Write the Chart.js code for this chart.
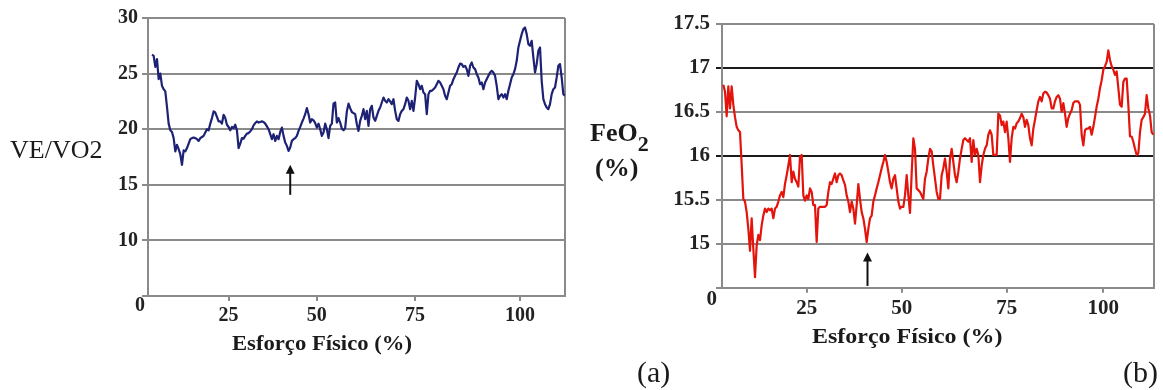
<!DOCTYPE html>
<html>
<head>
<meta charset="utf-8">
<script src="https://cdn.jsdelivr.net/npm/chart.js@4.4.1/dist/chart.umd.min.js"></script>
<style>
  html, body { margin: 0; padding: 0; background: #fff; }
  body { width: 1163px; height: 390px; position: relative; overflow: hidden;
         font-family: "Liberation Serif", "Times New Roman", serif; color: #1a1a1a; }
  .box { position: absolute; top: 0; height: 390px; }
  .lbl { position: absolute; white-space: nowrap; line-height: 1; transform-origin: left center; }
  .b { font-weight: bold; }
</style>
</head>
<body>
<div class="box" style="left:0;width:580px"><canvas id="chartA"></canvas></div>
<div class="box" style="left:580px;width:583px"><canvas id="chartB"></canvas></div>

<div class="lbl" style="left:10px;top:137px;font-size:26px">VE/VO2</div>
<div class="lbl b" style="left:590px;top:120px;font-size:26px">FeO<span style="font-size:22px;position:relative;top:10px">2</span></div>
<div class="lbl b" style="left:595px;top:155px;font-size:26px">(%)</div>
<div class="lbl b" style="left:232px;top:332px;font-size:22px;transform:scaleX(1.03)">Esforço Físico (%)</div>
<div class="lbl b" style="left:812px;top:325px;font-size:22px;transform:scaleX(1.09)">Esforço Físico (%)</div>
<div class="lbl" style="left:637px;top:357px;font-size:30px">(a)</div>
<div class="lbl" style="left:1123px;top:357px;font-size:30px">(b)</div>

<script>
// VE/VO2 ratio, one value per sample along the effort test
const vevo2 = [
  26.7, 26.6, 25.6, 26.3, 24.5, 25.0, 23.9, 23.6, 23.4, 22.0,
  20.5, 19.9, 19.75, 19.2, 18.0, 18.6, 18.2, 17.75, 16.8, 18.1,
  18.0, 18.3, 18.7, 19.1, 19.2, 19.25, 19.2, 19.1, 18.95, 19.2,
  19.3, 19.4, 19.7, 20.0, 19.9, 20.5, 21.0, 21.6, 21.5, 21.1,
  20.7, 20.7, 20.5, 21.3, 21.0, 20.4, 20.2, 19.9, 20.2, 20.1,
  20.4, 19.9, 18.3, 18.7, 19.2, 19.15, 19.4, 19.6, 19.65, 19.8,
  20.0, 20.35, 20.55, 20.7, 20.6, 20.65, 20.7, 20.65, 20.5, 20.25,
  20.0, 19.55, 19.1, 19.55, 18.95, 19.4, 19.1, 19.75, 20.15, 19.4,
  18.8, 18.5, 18.05, 18.35, 18.95, 19.1, 19.2, 19.4, 19.85, 20.2,
  20.6, 20.95, 21.35, 21.9, 21.35, 20.6, 20.9, 20.8, 20.55, 20.15,
  20.5, 20.0, 19.4, 19.7, 20.5, 20.0, 19.2, 20.3, 20.5, 22.3,
  22.4, 20.6, 21.0, 20.6, 20.05, 19.9, 20.1, 21.6, 22.3, 21.9,
  21.55, 21.45, 21.35,
  20.45, 19.85, 20.75, 21.2, 21.8, 20.9, 21.65, 20.3, 21.8, 22.1,
  21.05, 20.75, 21.2, 21.65, 21.95, 22.4, 22.85, 22.55, 22.4, 22.7,
  22.5, 22.25, 22.7, 21.65, 20.9, 20.75, 21.35, 21.65, 21.8, 22.25,
  22.85, 22.55, 21.8, 22.55, 21.65, 22.85, 24.35, 24.05, 23.6, 23.9,
  23.3, 23.15, 21.35, 23.15, 23.45, 23.45, 23.6, 23.75, 24.05, 24.35,
  24.2, 23.9, 23.6, 23.0, 22.7, 23.3, 23.9, 24.05, 24.5, 24.8,
  25.1, 25.55, 25.9, 25.85, 25.6, 25.7, 25.4, 24.8, 25.7, 26.0,
  25.55, 25.4, 24.95, 24.65, 24.05, 24.2, 23.6, 24.2, 24.5, 24.8,
  25.1, 25.25, 25.1, 24.8, 23.9, 22.7, 23.0, 23.15, 22.85, 23.15,
  22.7, 23.45, 24.05, 24.65, 24.95, 25.4, 26.15, 27.35, 27.95, 28.55,
  29.0, 29.15, 28.55, 27.65, 27.5, 27.95, 26.45, 25.1, 25.85, 27.05,
  27.35, 24.35, 22.7, 22.25, 21.95, 21.8, 22.25, 23.15, 23.6, 23.75,
  24.65, 25.7, 25.85, 24.65, 23.15, 23.0
];

// Expired O2 fraction (%), one value per sample
const feo2 = [
  16.81, 16.73, 16.45, 16.79, 16.54, 16.79, 16.58, 16.44, 16.33, 16.29,
  16.27, 15.90, 15.51, 15.48, 15.36, 15.17, 14.92, 15.29, 14.94, 14.62,
  14.98, 15.10, 15.04, 15.21, 15.32, 15.40, 15.36, 15.40, 15.38, 15.40,
  15.29, 15.40, 15.42, 15.48, 15.55, 15.59, 15.53, 15.68, 15.78, 15.89,
  16.01, 15.70, 15.82, 15.74, 15.70, 15.65, 15.99, 16.01, 15.55, 15.49,
  15.55, 15.51, 15.63, 15.59, 15.44, 15.44, 15.02, 15.40, 15.42, 15.42,
  15.42, 15.42, 15.44, 15.59, 15.70, 15.68, 15.74, 15.80, 15.70, 15.78,
  15.80, 15.78, 15.72, 15.67, 15.55, 15.48, 15.36, 15.48, 15.40, 15.23,
  15.44, 15.68, 15.51, 15.36, 15.29, 15.17, 15.02, 15.17, 15.29, 15.32,
  15.48, 15.55, 15.63, 15.70, 15.78, 15.86, 15.93, 16.01, 15.93, 15.82,
  15.70, 15.63, 15.74, 15.78, 15.63, 15.48, 15.40, 15.42, 15.42, 15.55,
  15.78, 15.55, 15.35, 15.80, 16.20, 16.08, 15.63, 15.61, 15.59, 15.55,
  15.51, 15.74, 15.82, 15.97, 16.08, 16.05, 15.89, 15.74, 15.59, 15.51,
  15.51,
  15.78, 15.86, 15.97, 15.82, 15.63, 15.97, 16.08, 15.93, 15.78, 15.70,
  15.82, 15.97, 16.08, 16.18, 16.20, 16.18, 16.16, 16.20, 15.93, 16.18,
  16.01, 16.08, 16.01, 15.70, 15.89, 16.01, 16.08, 16.12, 16.24, 16.29,
  16.24, 16.01, 16.01, 16.01, 16.48, 16.46, 16.35, 16.39, 16.27, 16.39,
  16.20, 15.93, 16.20, 16.33, 16.31, 16.37, 16.39, 16.43, 16.48, 16.44,
  16.33, 16.41, 16.35, 16.20, 16.12, 16.31, 16.41, 16.52, 16.62, 16.67,
  16.62, 16.71, 16.73, 16.72, 16.69, 16.65, 16.54, 16.54, 16.62, 16.67,
  16.69, 16.65, 16.50, 16.60, 16.48, 16.33, 16.43, 16.48, 16.52, 16.60,
  16.62, 16.62, 16.62, 16.58, 16.24, 16.12, 16.29, 16.31, 16.31, 16.33,
  16.24, 16.33, 16.44, 16.56, 16.65, 16.77, 16.86, 16.98, 17.02, 17.07,
  17.20, 17.09, 17.02, 16.98, 16.92, 16.96, 16.77, 16.58, 16.56, 16.84,
  16.88, 16.88, 16.58, 16.22, 16.22, 16.16, 16.08, 16.01, 16.03, 16.27,
  16.41, 16.44, 16.48, 16.69, 16.54, 16.46, 16.27, 16.24
];

// Effort (%) tick labels and the sample each one sits on
const effortTickLabels = ['25', '50', '75', '100'];
const effortTickSamplesA = [46, 99, 158, 221];
const effortTickSamplesB = [50, 107, 170, 228];

// Y-axis tick values (the lowest step is the broken-axis origin, shown as "0")
const vevo2Ticks = [5, 10, 15, 20, 25, 30];
const feo2Ticks = [14.5, 15, 15.5, 16, 16.5, 17, 17.5];
const feo2Emphasis = [16, 17];

// Threshold markers: sample index, arrow tail value, arrow tip value
const markerA = { sample: 83, from: 14.1, to: 16.8 };
const markerB = { sample: 86.5, from: 14.52, to: 14.9 };

const FONT = "'Liberation Serif', 'Times New Roman', serif";
const GRID = '#8a8a8a';

const extras = {
  id: 'extras',
  beforeDatasetsDraw(chart) {
    const { ctx, chartArea: a } = chart;
    ctx.save();
    ctx.strokeStyle = GRID;
    ctx.lineWidth = 2;
    ctx.beginPath();
    ctx.moveTo(a.right, a.top);
    ctx.lineTo(a.right, a.bottom);
    ctx.stroke();
    ctx.restore();
  },
  afterDraw(chart, args, o) {
    const { ctx, scales: { x, y } } = chart;
    ctx.save();
    // origin label of the broken value axis
    ctx.font = 'bold ' + o.fontSize + 'px ' + FONT;
    ctx.fillStyle = '#222';
    ctx.textAlign = 'right';
    ctx.textBaseline = 'middle';
    ctx.fillText('0', y.right - o.originDx, y.getPixelForValue(y.min) + o.originDy);
    // threshold arrow
    const ax = x.getPixelForValue(o.marker.sample);
    const yTail = y.getPixelForValue(o.marker.from);
    const yTip = y.getPixelForValue(o.marker.to);
    ctx.strokeStyle = '#111';
    ctx.fillStyle = '#111';
    ctx.lineWidth = 2;
    ctx.beginPath();
    ctx.moveTo(ax, yTail);
    ctx.lineTo(ax, yTip + 6);
    ctx.stroke();
    ctx.beginPath();
    ctx.moveTo(ax, yTip);
    ctx.lineTo(ax - 4.5, yTip + 9);
    ctx.lineTo(ax + 4.5, yTip + 9);
    ctx.closePath();
    ctx.fill();
    ctx.restore();
  }
};

function buildChart(id, cfg) {
  const fontTicks = { family: FONT, size: cfg.fontSize, weight: 'bold' };
  return new Chart(document.getElementById(id), {
    type: 'line',
    data: {
      datasets: [{
        data: cfg.values.map((v, i) => ({ x: i, y: v })),
        borderColor: cfg.color,
        borderWidth: 2.2,
        borderJoinStyle: 'round',
        pointRadius: 0,
        tension: 0,
        fill: false
      }]
    },
    options: {
      responsive: true,
      maintainAspectRatio: false,
      animation: false,
      events: [],
      layout: { padding: cfg.padding },
      plugins: {
        legend: { display: false },
        tooltip: { enabled: false },
        extras: { fontSize: cfg.fontSize, originDx: cfg.originDx, originDy: cfg.originDy, marker: cfg.marker }
      },
      scales: {
        x: {
          type: 'linear',
          min: cfg.xMin,
          max: cfg.xMax,
          afterFit(s) { s.height = cfg.xHeight; },
          afterBuildTicks(s) { s.ticks = cfg.xTicks.map(v => ({ value: v })); },
          ticks: {
            autoSkip: false, maxRotation: 0, minRotation: 0, padding: cfg.xPad,
            color: '#222', font: fontTicks,
            callback: (v, i) => effortTickLabels[i]
          },
          grid: { drawOnChartArea: false, drawTicks: true, tickLength: 5, color: GRID, lineWidth: 2 },
          border: { color: GRID, width: 2 }
        },
        y: {
          min: cfg.yTicks[0],
          max: cfg.yTicks[cfg.yTicks.length - 1],
          afterFit(s) { s.width = cfg.yWidth; },
          afterBuildTicks(s) { s.ticks = cfg.yTicks.map(v => ({ value: v })); },
          ticks: {
            padding: cfg.yPad, color: '#222', font: fontTicks,
            callback: v => (v === cfg.yTicks[0] ? '' : String(v))
          },
          grid: {
            tickLength: 6,
            lineWidth: 2,
            color: c => (c.tick && cfg.emphasis.includes(c.tick.value)) ? '#1a1a1a' : GRID
          },
          border: { color: GRID, width: 2 }
        }
      }
    },
    plugins: [extras]
  });
}

buildChart('chartA', {
  values: vevo2, color: '#1e2275', fontSize: 20,
  padding: { left: 0, right: 15, top: 18, bottom: 0 },
  xMin: -2.4, xMax: 248, xHeight: 94, xPad: 3, xTicks: effortTickSamplesA,
  yTicks: vevo2Ticks, yWidth: 148, yPad: 4, emphasis: [],
  originDx: 3, originDy: 10, marker: markerA
});

buildChart('chartB', {
  values: feo2, color: '#e3140c', fontSize: 21,
  padding: { left: 0, right: 9, top: 24, bottom: 0 },
  xMin: -0.8, xMax: 258.4, xHeight: 102.3, xPad: 3, xTicks: effortTickSamplesB,
  yTicks: feo2Ticks, yWidth: 142, yPad: 6, emphasis: feo2Emphasis,
  originDx: 5, originDy: 12, marker: markerB
});
</script>
</body>
</html>
